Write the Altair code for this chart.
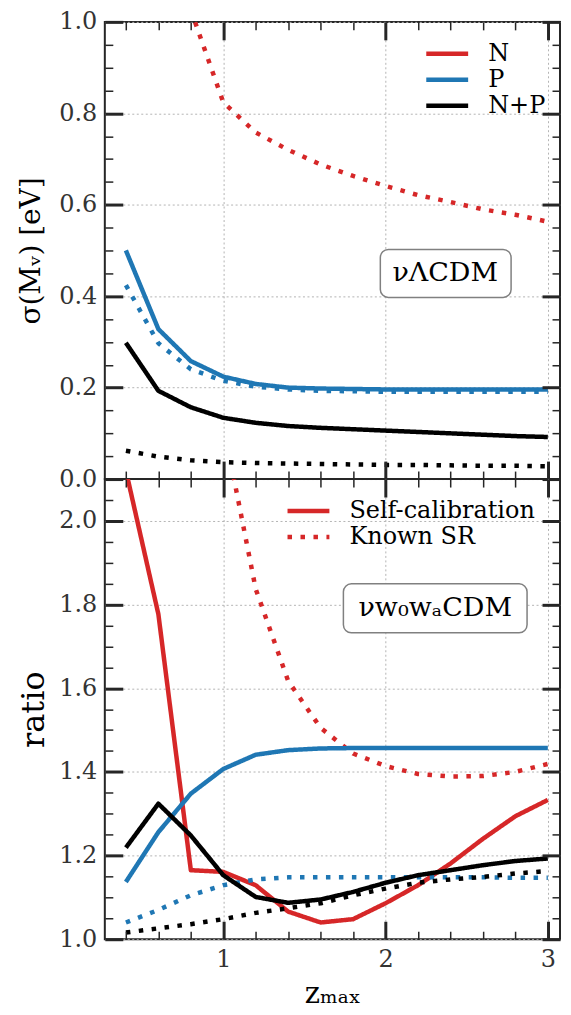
import altair as alt
import pandas as pd

FONT = "DejaVu Serif, Liberation Serif, serif"
SPINE = "#262626"
GRID = "#b4b4b4"
RED, BLUE, BLACK = "#d62728", "#1f77b4", "#000000"

# ---------------- data ----------------
z = [0.4, 0.6, 0.8, 1.0, 1.2, 1.4, 1.6, 1.8, 2.0, 2.2, 2.4, 2.6, 2.8, 3.0]

# top panel: sigma(M_nu) [eV]
sig_P_self = [0.500, 0.328, 0.258, 0.224, 0.208, 0.200, 0.198, 0.197, 0.196, 0.196, 0.196, 0.196, 0.196, 0.196]
sig_P_known = [0.424, 0.297, 0.240, 0.215, 0.202, 0.196, 0.193, 0.192, 0.191, 0.191, 0.191, 0.191, 0.191, 0.191]
sig_NP_self = [0.298, 0.193, 0.157, 0.134, 0.123, 0.116, 0.112, 0.109, 0.106, 0.103, 0.100, 0.097, 0.094, 0.092]
sig_NP_known = [0.062, 0.049, 0.041, 0.037, 0.035, 0.034, 0.033, 0.032, 0.031, 0.031, 0.030, 0.029, 0.029, 0.028]
z_N_known = [0.8, 1.0, 1.2, 1.4, 1.6, 1.8, 2.0, 2.2, 2.4, 2.6, 2.8, 3.0]
sig_N_known = [1.026, 0.824, 0.758, 0.720, 0.688, 0.663, 0.641, 0.621, 0.606, 0.590, 0.578, 0.563]

# bottom panel: ratio
ratio_N_self = [2.12, 1.777, 1.165, 1.161, 1.129, 1.066, 1.040, 1.048, 1.086, 1.129, 1.181, 1.240, 1.294, 1.333]
ratio_P_self = [1.137, 1.256, 1.348, 1.407, 1.441, 1.452, 1.456, 1.457, 1.457, 1.457, 1.457, 1.457, 1.457, 1.457]
ratio_NP_self = [1.219, 1.324, 1.248, 1.153, 1.101, 1.087, 1.095, 1.113, 1.135, 1.153, 1.165, 1.177, 1.187, 1.193]
ratio_P_known = [1.040, 1.070, 1.105, 1.129, 1.143, 1.148, 1.148, 1.148, 1.148, 1.148, 1.148, 1.148, 1.147, 1.147]
ratio_NP_known = [1.016, 1.026, 1.036, 1.048, 1.063, 1.074, 1.086, 1.105, 1.121, 1.135, 1.143, 1.149, 1.157, 1.163]
z_N_known_r = [1.0, 1.2, 1.4, 1.6, 1.8, 2.0, 2.2, 2.4, 2.6, 2.8, 3.0]
ratio_N_known = [2.23, 1.837, 1.617, 1.505, 1.444, 1.414, 1.395, 1.389, 1.390, 1.400, 1.419]

series_names = ["N", "P", "N+P"]
series_colors = [RED, BLUE, BLACK]
kind_names = ["Self-calibration", "Known SR"]
box_labels = ["νΛCDM", "νw₀wₐCDM"]

x_major = [1, 2, 3]
x_minor = [0.4, 0.6, 0.8, 1.2, 1.4, 1.6, 1.8, 2.2, 2.4, 2.6, 2.8]
y_top_major = [0.0, 0.2, 0.4, 0.6, 0.8, 1.0]
y_top_minor = [0.05, 0.1, 0.15, 0.25, 0.3, 0.35, 0.45, 0.5, 0.55, 0.65, 0.7, 0.75, 0.85, 0.9, 0.95]
y_bot_major = [1.0, 1.2, 1.4, 1.6, 1.8, 2.0]
y_bot_minor = [1.05, 1.1, 1.15, 1.25, 1.3, 1.35, 1.45, 1.5, 1.55, 1.65, 1.7, 1.75, 1.85, 1.9, 1.95, 2.05]


def to_long(rows):
    recs = []
    for s, k, xx, vv in rows:
        for a, b in zip(xx, vv):
            recs.append({"z": a, "v": b, "series": s, "kind": k})
    return pd.DataFrame(recs)


top_df = to_long([
    ("N", "Known SR", z_N_known, sig_N_known),
    ("P", "Self-calibration", z, sig_P_self),
    ("P", "Known SR", z, sig_P_known),
    ("N+P", "Self-calibration", z, sig_NP_self),
    ("N+P", "Known SR", z, sig_NP_known),
])
bot_df = to_long([
    ("N", "Self-calibration", z, ratio_N_self),
    ("N", "Known SR", z_N_known_r, ratio_N_known),
    ("P", "Self-calibration", z, ratio_P_self),
    ("P", "Known SR", z, ratio_P_known),
    ("N+P", "Self-calibration", z, ratio_NP_self),
    ("N+P", "Known SR", z, ratio_NP_known),
])

W = 456
H1 = 458
H2 = 461

xs = alt.Scale(domain=[0.27, 3.075], nice=False, zero=False)
ys_top = alt.Scale(domain=[0.0, 1.0], nice=False, zero=False)
ys_bot = alt.Scale(domain=[1.0, 2.1], nice=False, zero=False)

color_scale = alt.Scale(domain=series_names, range=series_colors)
dash_scale = alt.Scale(domain=kind_names, range=[[1, 0], [4.5, 8.5]])


def tick_axis(orient, values, size, width, offset):
    return alt.Axis(orient=orient, values=values, ticks=True, tickSize=size, tickWidth=width,
                    tickColor=SPINE, labels=False, domain=False, grid=False, offset=offset,
                    title=None, zindex=1)


def panel(df, ys, H, ymaj, ymin, ytitle, ytitle_size, ytitle_pad, show_xlabels, legend_color,
          legend_dash, box_label, box_xy, txt_xy):
    lines = alt.Chart(df).mark_line(clip=True, strokeWidth=4.5, strokeCap="butt",
                                    strokeJoin="round").encode(
        x=alt.X("z:Q", scale=xs, axis=None),
        y=alt.Y("v:Q", scale=ys, axis=None),
        color=alt.Color("series:N", scale=color_scale, legend=legend_color),
        strokeDash=alt.StrokeDash("kind:N", scale=dash_scale, legend=legend_dash),
    )

    def ax_layer(xaxis, yaxis):
        return alt.Chart(df).mark_point(opacity=0, clip=True, size=1).encode(
            x=alt.X("z:Q", scale=xs, axis=xaxis),
            y=alt.Y("v:Q", scale=ys, axis=yaxis),
        )

    if show_xlabels:
        xlab = alt.Axis(orient="bottom", values=x_major, format="d", grid=True, gridColor=GRID,
                        gridDash=[2, 2.5], gridWidth=1, ticks=False, tickSize=0, domain=False,
                        labels=True, labelFont=FONT, labelFontSize=24, labelColor="#333333",
                        labelPadding=8, title="zₘₐₓ", titleFont=FONT, titleFontSize=29,
                        titleFontWeight="normal", titleColor="black", titlePadding=8, zindex=0)
    else:
        xlab = alt.Axis(orient="bottom", values=x_major, grid=True, gridColor=GRID,
                        gridDash=[2, 2.5], gridWidth=1, ticks=False, tickSize=0, domain=False,
                        labels=False, title=None, zindex=0)
    ylab = alt.Axis(orient="left", values=ymaj, format=".1f", grid=True, gridColor=GRID,
                    gridDash=[2, 2.5], gridWidth=1, ticks=False, tickSize=0, domain=False,
                    labels=True, labelFont=FONT, labelFontSize=24, labelColor="#333333",
                    labelPadding=8, labelFlush=False, title=ytitle, titleFont=FONT,
                    titleFontSize=ytitle_size, titleFontWeight="normal", titleColor="black",
                    titlePadding=ytitle_pad, zindex=0)

    layers = [
        ax_layer(xlab, ylab),
        ax_layer(tick_axis("top", x_major, 18, 3, -H), tick_axis("right", ymaj, 18, 3, -W)),
        ax_layer(tick_axis("top", x_minor, 8, 1.5, -H), tick_axis("right", ymin, 8, 1.5, -W)),
        ax_layer(tick_axis("bottom", x_major, 18, 3, -H), tick_axis("left", ymaj, 18, 3, -W)),
        ax_layer(tick_axis("bottom", x_minor, 8, 1.5, -H), tick_axis("left", ymin, 8, 1.5, -W)),
        lines,
    ]

    ann = pd.DataFrame({"label": [box_label]})
    box = alt.Chart(ann).mark_rect(fill="white", stroke="#808080", strokeWidth=1.5,
                                   cornerRadius=8).encode(
        x=alt.value(box_xy[0]), x2=alt.value(box_xy[1]),
        y=alt.value(box_xy[2]), y2=alt.value(box_xy[3]))
    txt = alt.Chart(ann).mark_text(font=FONT, fontSize=27, color="black", align="center",
                                   baseline="middle").encode(
        x=alt.value(txt_xy[0]), y=alt.value(txt_xy[1]), text="label:N")
    layers += [box, txt]

    return alt.layer(*layers).resolve_axis(x="independent", y="independent").properties(
        width=W, height=H)


leg_common = dict(orient="none", title=None, symbolType="M-4,0H4", symbolSize=110,
                  symbolStrokeWidth=4.5, labelFont=FONT, labelFontSize=24, labelColor="black",
                  labelOffset=29, labelLimit=400, rowPadding=2, padding=0)

top_legend = alt.Legend(legendX=331, legendY=20, **leg_common)
bot_legend = alt.Legend(legendX=192, legendY=20, symbolStrokeColor=RED, **leg_common)

top = panel(top_df, ys_top, H1, y_top_major, y_top_minor, "σ(Mᵥ) [eV]", 28, 13, False,
            top_legend, None, box_labels[0], (276, 407, 228, 276), (341, 252))
bottom = panel(bot_df, ys_bot, H2, y_bot_major, y_bot_minor, "ratio", 32, 8, True,
               None, bot_legend, box_labels[1], (239, 423, 105, 154), (331, 129))

chart = alt.vconcat(top, bottom, spacing=0, bounds="flush").resolve_scale(
    color="independent", strokeDash="independent").configure_view(
    stroke=SPINE, strokeWidth=2).properties(
    padding={"left": 8, "top": 0, "right": 0, "bottom": 0})

chart.save("out.html", embed_options={"renderer": "svg", "actions": False})
